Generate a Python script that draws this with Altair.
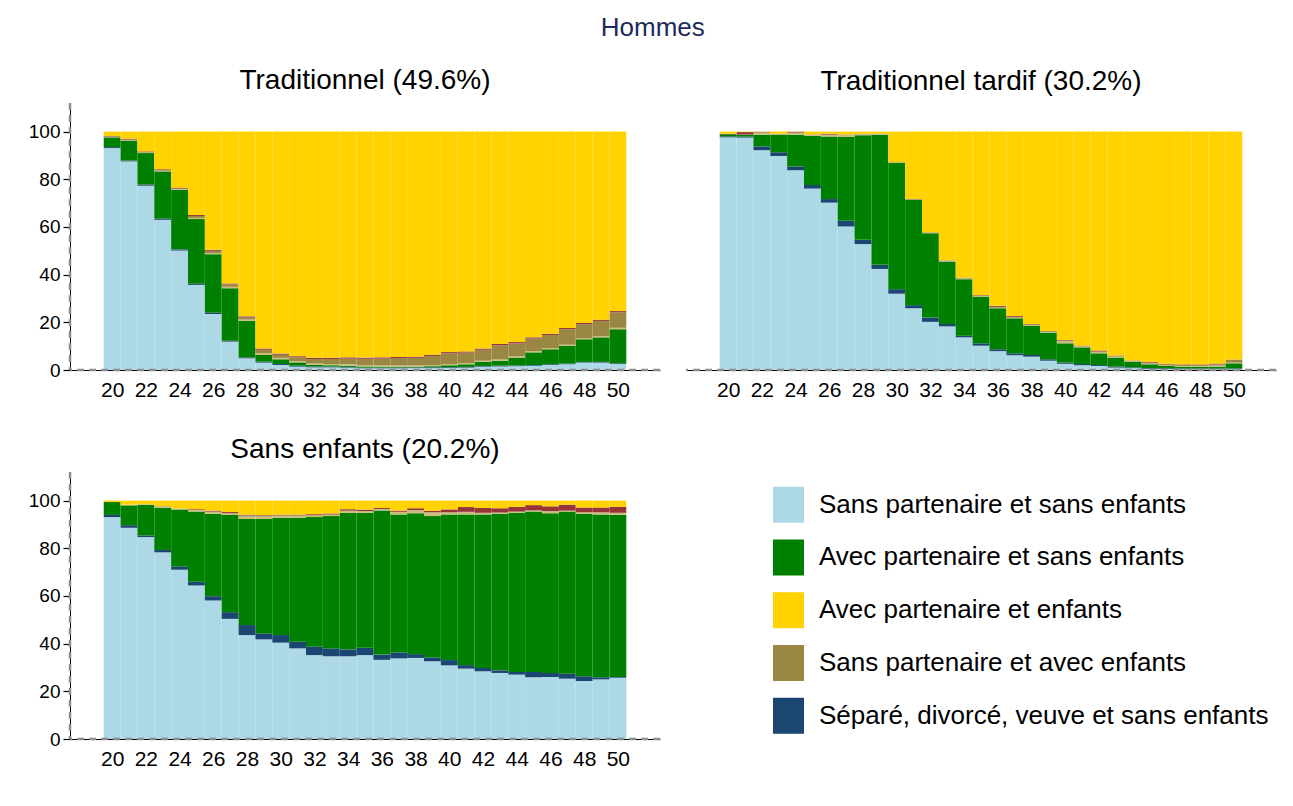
import altair as alt
import pandas as pd

FONT = "Liberation Sans"

AGES = list(range(20, 51))

CATS = [
    "Sans partenaire et sans enfants",
    "Séparé, divorcé, veuve et sans enfants",
    "Avec partenaire et sans enfants",
    "Autre état (clair)",
    "Sans partenaire et avec enfants",
    "Autre état (rouge)",
    "Avec partenaire et enfants",
]
COLORS = ["#add8e6", "#1c4672", "#008000", "#cbbd79", "#9b8744", "#963438", "#ffd200"]

# ---- Traditionnel (49.6%)
T_LB = [93.1, 87.5, 77.3, 63.0, 50.1, 35.7, 23.5, 11.9, 4.9, 3.1, 2.1, 1.4, 1.1, 1.1, 1.0, 0.7,
        0.7, 0.7, 0.8, 0.8, 0.9, 1.0, 1.4, 1.5, 1.6, 1.8, 2.1, 2.4, 3.1, 3.1, 2.5]
T_DB = [0.4, 0.4, 0.5, 0.5, 0.5, 0.5, 0.5, 0.4, 0.4, 0.4, 0.4, 0.4, 0.3, 0.3, 0.3, 0.3,
        0.3, 0.3, 0.3, 0.3, 0.3, 0.3, 0.3, 0.3, 0.3, 0.3, 0.3, 0.3, 0.3, 0.3, 0.3]
T_G = [4.1, 8.3, 13.2, 19.8, 25.0, 27.1, 24.6, 22.0, 15.3, 2.8, 2.0, 1.4, 0.8, 0.6, 0.5, 0.5,
       0.4, 0.4, 0.3, 0.5, 0.8, 1.1, 1.7, 2.1, 3.3, 5.3, 6.3, 7.4, 9.5, 10.3, 14.3]
T_KH = [0.2, 0.2, 0.2, 0.3, 0.3, 0.5, 0.5, 0.6, 0.6, 0.8, 0.6, 0.5, 0.5, 0.5, 0.6, 0.5,
        0.5, 0.5, 0.5, 0.5, 0.5, 0.5, 0.5, 0.5, 0.5, 0.5, 0.5, 0.5, 0.5, 0.5, 0.6]
T_OL = [0.2, 0.3, 0.2, 0.3, 0.2, 0.8, 0.9, 1.0, 0.8, 1.4, 1.3, 1.6, 1.9, 2.1, 2.4, 2.7,
        2.9, 3.1, 3.2, 3.8, 4.5, 4.4, 4.6, 6.0, 5.5, 5.3, 5.5, 6.5, 5.8, 6.4, 6.5]
T_DR = [0.2, 0.3, 0.3, 0.3, 0.4, 0.4, 0.4, 0.4, 0.5, 0.5, 0.5, 0.5, 0.5, 0.5, 0.5, 0.5,
        0.5, 0.5, 0.5, 0.5, 0.5, 0.5, 0.5, 0.5, 0.5, 0.5, 0.5, 0.5, 0.5, 0.5, 0.5]
T_Y = [1.8, 3.0, 8.3, 15.8, 23.5, 35.0, 49.6, 63.7, 77.5, 91.0, 93.1, 94.2, 94.9, 94.9, 94.7, 94.8,
       94.7, 94.5, 94.4, 93.6, 92.5, 92.2, 91.0, 89.1, 88.3, 86.3, 84.8, 82.4, 80.3, 78.9, 75.3]

# ---- Traditionnel tardif (30.2%)
TT_LB = [97.6, 97.5, 92.2, 89.8, 83.8, 76.1, 70.2, 60.2, 52.8, 42.4, 32.0, 25.9, 20.2, 18.3, 13.7, 10.2,
         7.9, 6.2, 5.6, 3.9, 2.6, 2.0, 1.7, 1.0, 0.8, 0.5, 0.4, 0.3, 0.3, 0.3, 0.3]
TT_DB = [0.4, 0.4, 1.6, 1.5, 1.6, 1.5, 1.5, 2.4, 1.8, 1.7, 1.9, 1.3, 1.8, 1.0, 0.7, 1.0,
         0.8, 0.8, 0.7, 0.6, 0.5, 0.5, 0.4, 0.4, 0.3, 0.3, 0.3, 0.3, 0.3, 0.3, 0.3]
TT_G = [0.9, 0.8, 4.9, 7.4, 13.3, 20.7, 26.3, 35.2, 43.9, 54.6, 52.9, 44.2, 35.4, 26.2, 23.7, 19.6,
        17.2, 14.7, 12.2, 11.2, 8.1, 7.0, 4.9, 3.8, 2.4, 1.6, 1.0, 0.8, 0.8, 0.8, 2.2]
TT_KH = [0.0, 0.0, 0.8, 0.2, 0.5, 0.3, 0.5, 0.7, 0.4, 0.2, 0.2, 0.1, 0.2, 0.3, 0.3, 0.3,
         0.2, 0.3, 0.3, 0.3, 0.8, 0.4, 0.4, 0.4, 0.2, 0.3, 0.3, 0.3, 0.3, 0.4, 0.3]
TT_OL = [0.0, 0.1, 0.3, 0.1, 0.5, 0.1, 0.3, 0.2, 0.1, 0.1, 0.1, 0.1, 0.1, 0.1, 0.2, 0.3,
         0.4, 0.3, 0.4, 0.3, 0.4, 0.3, 0.4, 0.4, 0.2, 0.4, 0.5, 0.6, 0.3, 0.6, 1.2]
TT_DR = [0.2, 1.0, 0.1, 0.1, 0.2, 0.1, 0.3, 0.1, 0.1, 0.1, 0.1, 0.1, 0.1, 0.1, 0.1, 0.1,
         0.4, 0.4, 0.1, 0.1, 0.2, 0.1, 0.4, 0.1, 0.1, 0.3, 0.1, 0.1, 0.3, 0.3, 0.1]
TT_Y = [0.9, 0.2, 0.1, 0.9, 0.1, 1.2, 0.9, 1.2, 0.9, 0.9, 12.8, 28.3, 42.2, 54.0, 61.3, 68.5,
        73.1, 77.3, 80.7, 83.6, 87.4, 89.7, 91.8, 93.9, 96.0, 96.6, 97.4, 97.6, 97.7, 97.3, 95.6]

# ---- Sans enfants (20.2%)
SE_LB = [93.1, 88.6, 84.7, 78.3, 71.0, 64.4, 58.1, 50.4, 43.6, 41.8, 40.4, 38.0, 35.2, 34.7, 34.7, 35.2,
         33.2, 33.8, 34.0, 32.6, 30.9, 29.5, 28.4, 27.7, 27.0, 25.9, 26.0, 25.3, 24.3, 25.0, 25.7]
SE_DB = [0.9, 1.1, 0.7, 1.0, 1.4, 1.6, 1.8, 2.8, 4.2, 2.5, 3.2, 2.8, 3.5, 3.3, 2.9, 3.1,
         2.2, 2.5, 1.6, 1.6, 2.2, 1.5, 1.4, 1.1, 1.1, 2.2, 1.7, 2.1, 2.0, 0.9, 0.3]
SE_G = [5.4, 8.3, 12.8, 17.7, 23.9, 29.4, 34.6, 40.8, 44.5, 48.0, 49.2, 52.0, 54.4, 55.5, 57.3, 56.6,
        60.5, 57.9, 59.1, 59.3, 61.1, 63.2, 64.4, 65.7, 66.8, 67.3, 67.0, 68.0, 68.2, 68.3, 68.0]
SE_KH = [0.0, 0.3, 0.3, 0.5, 0.3, 0.6, 0.8, 0.6, 1.0, 1.0, 0.8, 0.8, 0.6, 0.5, 0.8, 0.6,
         0.5, 1.0, 1.2, 1.5, 0.8, 1.0, 0.6, 0.4, 0.4, 0.4, 0.8, 0.3, 0.5, 0.8, 0.8]
SE_OL = [0.0, 0.0, 0.0, 0.2, 0.1, 0.1, 0.1, 0.1, 0.5, 0.3, 0.2, 0.2, 0.2, 0.2, 0.1, 0.1,
         0.1, 0.1, 0.1, 0.1, 0.1, 0.1, 0.1, 0.1, 0.1, 0.1, 0.1, 0.1, 0.1, 0.1, 0.1]
SE_DR = [0.0, 0.0, 0.0, 0.0, 0.0, 0.3, 0.4, 0.5, 0.3, 0.3, 0.3, 0.3, 0.4, 0.4, 0.6, 0.6,
         0.4, 0.5, 0.8, 0.6, 1.2, 2.0, 2.0, 1.8, 2.0, 2.2, 2.0, 2.5, 2.0, 2.0, 2.5]
SE_Y = [0.6, 1.7, 1.5, 2.3, 3.3, 3.6, 4.2, 4.8, 5.9, 6.1, 5.9, 5.9, 5.7, 5.4, 3.6, 3.8,
        3.1, 4.2, 3.2, 4.3, 3.7, 2.7, 3.1, 3.2, 2.6, 1.9, 2.4, 1.7, 2.9, 2.9, 2.6]

LEGEND_LABELS = [
    "Sans partenaire et sans enfants",
    "Avec partenaire et sans enfants",
    "Avec partenaire et enfants",
    "Sans partenaire et avec enfants",
    "Séparé, divorcé, veuve et sans enfants",
]

Y_TICKS = [0, 20, 40, 60, 80, 100]
X_TICKS = list(range(20, 51, 2))


def long_df(series):
    rows = []
    for k, (cat, vals) in enumerate(zip(CATS, series)):
        for a, v in zip(AGES, vals):
            rows.append({"age": a, "cat": cat, "order": k, "value": v})
    return pd.DataFrame(rows)


color_enc = alt.Color("cat:N", scale=alt.Scale(domain=CATS, range=COLORS), legend=None)


def panel(df, title, show_y):
    xscale = alt.Scale(domain=[17.5, 52.5], nice=False, zero=False)
    yscale = alt.Scale(domain=[0, 112], nice=False)
    xaxis = alt.Axis(values=X_TICKS, format="d", ticks=False, grid=False,
                     labelOverlap=False, labelFontSize=21,
                     labelPadding=9, title=None, domainColor="black")
    yaxis = (alt.Axis(values=Y_TICKS, title=None, grid=False, tickSize=7, labelPadding=3,
                      labelFontSize=19, domainColor="black", tickColor="black", tickWidth=1.2)
             if show_y else None)
    base = alt.Chart(df).transform_stack(
        stack="value", as_=["y0", "y1"], groupby=["age"],
        sort=[alt.SortField("order", order="ascending")]
    ).transform_calculate(x0="datum.age - 0.5", x1="datum.age + 0.5")
    bars = base.mark_rect().encode(
        x=alt.X("x0:Q", scale=xscale, axis=xaxis),
        x2="x1:Q",
        y=alt.Y("y0:Q", scale=yscale, axis=yaxis),
        y2="y1:Q",
        color=color_enc,
    )
    layers = [bars]
    hrule = alt.Chart(pd.DataFrame({"v": [0]})).mark_rule(
        color="#8c8c8c", strokeDash=[7, 5], strokeWidth=2.5
    ).encode(y=alt.Y("v:Q", scale=yscale, axis=yaxis))
    layers.append(hrule)
    if show_y:
        vrule = alt.Chart(pd.DataFrame({"v": [17.5]})).mark_rule(
            color="#8c8c8c", strokeDash=[7, 5], strokeWidth=2.5
        ).encode(x=alt.X("v:Q", scale=xscale, axis=xaxis))
        layers.append(vrule)
    return alt.layer(*layers).properties(
        width=590, height=267,
        title=alt.TitleParams(title, fontSize=28, fontWeight="normal", font=FONT,
                              color="black", offset=7),
    )


p1 = panel(long_df([T_LB, T_DB, T_G, T_KH, T_OL, T_DR, T_Y]), "Traditionnel (49.6%)", True)
p2 = panel(long_df([TT_LB, TT_DB, TT_G, TT_KH, TT_OL, TT_DR, TT_Y]), "Traditionnel tardif (30.2%)", False)
p3 = panel(long_df([SE_LB, SE_DB, SE_G, SE_KH, SE_OL, SE_DR, SE_Y]), "Sans enfants (20.2%)", True)

leg_df = pd.DataFrame({"label": LEGEND_LABELS, "cat": LEGEND_LABELS, "idx": list(range(5))})
lscale = alt.Scale(domain=[-0.62, 4.44], reverse=True, nice=False, zero=False)
lbase = alt.Chart(leg_df).transform_calculate(ya="datum.idx - 0.34", yb="datum.idx + 0.34")
lrects = lbase.mark_rect().encode(
    x=alt.value(89), x2=alt.value(120),
    y=alt.Y("ya:Q", scale=lscale, axis=None), y2="yb:Q",
    color=color_enc,
)
ltexts = lbase.mark_text(align="left", baseline="middle", fontSize=26, font=FONT, color="black").encode(
    x=alt.value(135),
    y=alt.Y("idx:Q", scale=lscale, axis=None),
    text="label:N",
)
legend = alt.layer(lrects, ltexts).properties(width=590, height=267)

row1 = alt.hconcat(p1, p2, spacing=22)
row2 = alt.hconcat(p3, legend, spacing=22)

chart = alt.vconcat(row1, row2, spacing=35).properties(
    title=alt.TitleParams("Hommes", fontSize=26, fontWeight="normal", font=FONT,
                          color="#1e2a5a", anchor="middle", offset=26),
    padding={"left": 20, "top": 6, "right": 5, "bottom": 5},
).configure_view(stroke=None).configure_axis(
    labelFont=FONT, labelColor="black"
)

chart.save("out.html", embed_options={"renderer": "svg", "actions": False})
